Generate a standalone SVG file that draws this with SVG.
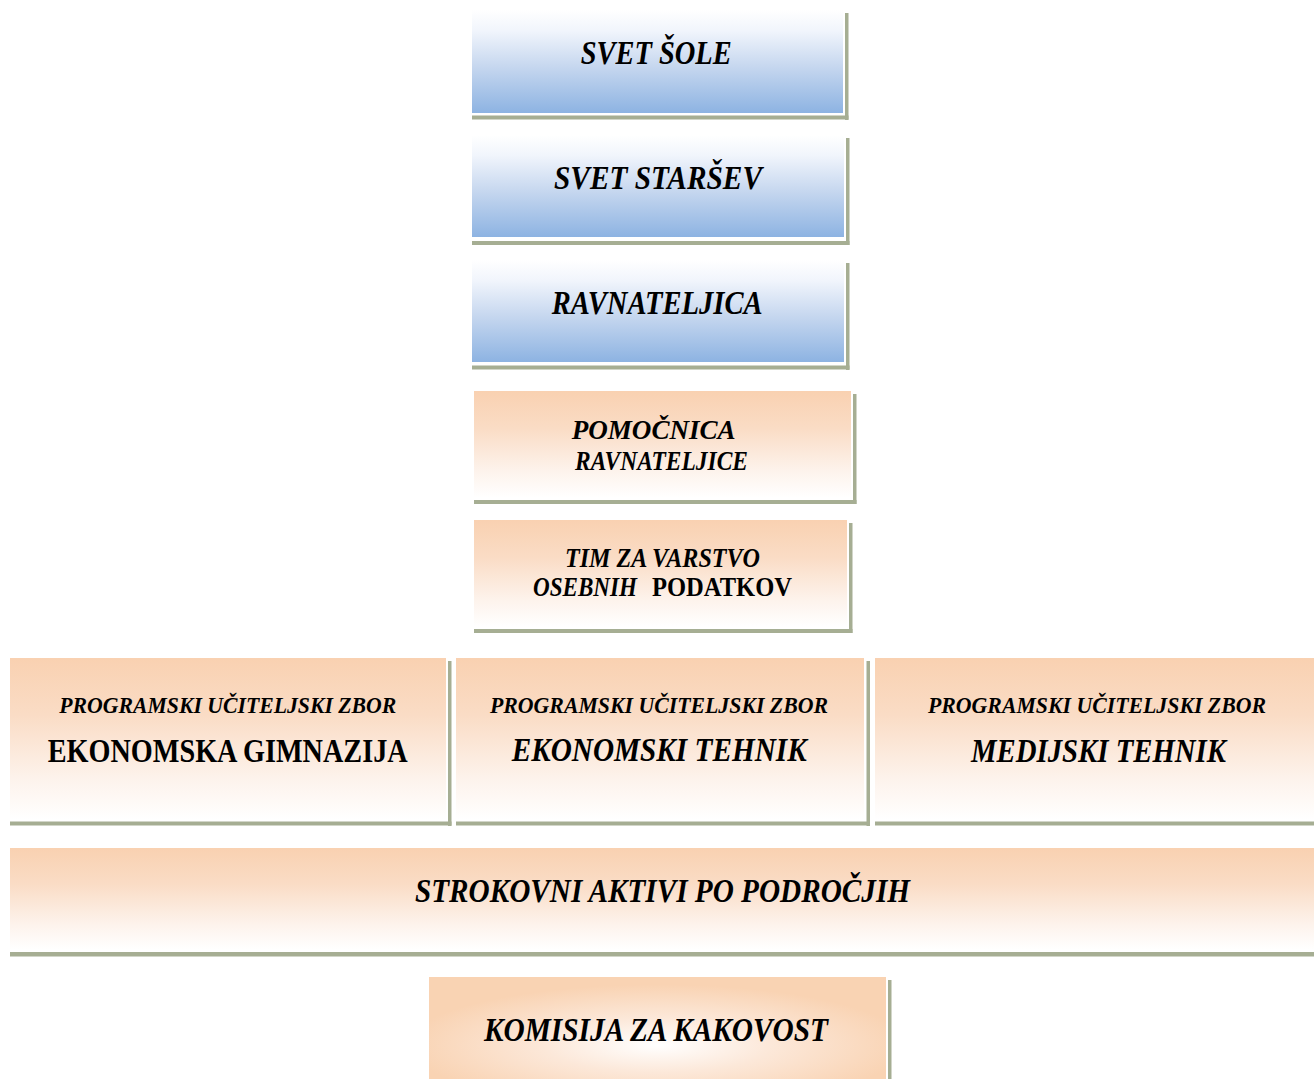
<svg xmlns="http://www.w3.org/2000/svg" width="1314" height="1079" viewBox="0 0 1314 1079">
<defs>
<linearGradient id="gBlue" x1="0" y1="0" x2="0" y2="1">
<stop offset="0" stop-color="#ffffff"/>
<stop offset="0.2" stop-color="#f1f5fc"/>
<stop offset="0.55" stop-color="#c6d7ef"/>
<stop offset="1" stop-color="#8db3e2"/>
</linearGradient>
<linearGradient id="gOrange" x1="0" y1="0" x2="0" y2="1">
<stop offset="0" stop-color="#f9d1b1"/>
<stop offset="0.35" stop-color="#fadcc5"/>
<stop offset="0.75" stop-color="#fdf3ec"/>
<stop offset="1" stop-color="#ffffff"/>
</linearGradient>
<radialGradient id="gRadial" cx="0.5" cy="0.62" r="0.55">
<stop offset="0" stop-color="#ffffff"/>
<stop offset="0.45" stop-color="#fce8d9"/>
<stop offset="1" stop-color="#f9d3b3"/>
</radialGradient>
</defs>
<style>
.blue{fill:url(#gBlue)}
.orange{fill:url(#gOrange)}
.radial{fill:url(#gRadial)}
.sh{fill:#a6ae93}
.t{font-family:"Liberation Serif","Times New Roman",serif;font-weight:bold;font-style:italic;fill:#000}
.u{font-family:"Liberation Serif","Times New Roman",serif;font-weight:bold;font-style:normal;fill:#000}
.s32{font-size:33.5px}
.s27{font-size:28px}
.s23{font-size:24px}
.s33{font-size:34px}
</style>
<rect width="1314" height="1079" fill="#ffffff"/>
<g id="connectors"/>

<g id="svet-sole">
<rect class="blue" x="472" y="10" width="371" height="103"/>
<rect class="sh" x="845" y="13" width="3.5" height="107"/>
<rect class="sh" x="472" y="115.5" width="376.5" height="4"/>
<text class="t s32" x="580.7" y="63.5" textLength="151" lengthAdjust="spacingAndGlyphs">SVET ŠOLE</text>
</g>

<g id="svet-starsev">
<rect class="blue" x="472" y="135" width="372" height="102"/>
<rect class="sh" x="846" y="138" width="3.5" height="107"/>
<rect class="sh" x="472" y="241" width="377.5" height="4"/>
<text class="t s32" x="554" y="188.5" textLength="208" lengthAdjust="spacingAndGlyphs">SVET STARŠEV</text>
</g>

<g id="ravnateljica">
<rect class="blue" x="472" y="260" width="372" height="102"/>
<rect class="sh" x="846" y="263" width="3.5" height="107"/>
<rect class="sh" x="472" y="365.5" width="377.5" height="4"/>
<text class="t s32" x="551.7" y="313.5" textLength="211" lengthAdjust="spacingAndGlyphs">RAVNATELJICA</text>
</g>

<g id="pomocnica">
<rect class="orange" x="474" y="391" width="377" height="107"/>
<rect class="sh" x="853" y="394" width="3.5" height="110"/>
<rect class="sh" x="474" y="500" width="382.5" height="4"/>
<text class="t s27" x="571.7" y="439" textLength="164" lengthAdjust="spacingAndGlyphs">POMOČNICA</text>
<text class="t s27" x="575" y="470" textLength="173" lengthAdjust="spacingAndGlyphs">RAVNATELJICE</text>
</g>

<g id="tim">
<rect class="orange" x="474" y="520" width="373" height="107"/>
<rect class="sh" x="849" y="523" width="3.5" height="110"/>
<rect class="sh" x="474" y="629" width="378.5" height="4"/>
<text class="t s27" x="565" y="567" textLength="195" lengthAdjust="spacingAndGlyphs">TIM ZA VARSTVO</text>
<text class="t s27" x="533" y="596" textLength="104" lengthAdjust="spacingAndGlyphs">OSEBNIH</text>
<text class="u s27" x="652" y="596" textLength="140" lengthAdjust="spacingAndGlyphs">PODATKOV</text>
</g>

<g id="zbor-eg">
<rect class="orange" x="10" y="658" width="436" height="162"/>
<rect class="sh" x="448" y="661" width="3.5" height="165"/>
<rect class="sh" x="10" y="821.5" width="441.5" height="4"/>
<text class="t s23" x="59.3" y="712.5" textLength="337" lengthAdjust="spacingAndGlyphs">PROGRAMSKI UČITELJSKI ZBOR</text>
<text class="u s32" x="47.7" y="761.5" textLength="360" lengthAdjust="spacingAndGlyphs">EKONOMSKA GIMNAZIJA</text>
</g>

<g id="zbor-et">
<rect class="orange" x="456" y="658" width="408" height="162"/>
<rect class="sh" x="866.5" y="661" width="3.5" height="165"/>
<rect class="sh" x="456" y="821.5" width="414" height="4"/>
<text class="t s23" x="490" y="712.5" textLength="338" lengthAdjust="spacingAndGlyphs">PROGRAMSKI UČITELJSKI ZBOR</text>
<text class="t s32" x="511.7" y="761" textLength="295" lengthAdjust="spacingAndGlyphs">EKONOMSKI TEHNIK</text>
</g>

<g id="zbor-mt">
<rect class="orange" x="875" y="658" width="445" height="162"/>
<rect class="sh" x="875" y="821.5" width="445" height="4"/>
<text class="t s23" x="928" y="712.5" textLength="338" lengthAdjust="spacingAndGlyphs">PROGRAMSKI UČITELJSKI ZBOR</text>
<text class="t s32" x="971" y="761.5" textLength="255" lengthAdjust="spacingAndGlyphs">MEDIJSKI TEHNIK</text>
</g>

<g id="strokovni-aktivi">
<rect class="orange" x="10" y="848" width="1310" height="102"/>
<rect class="sh" x="10" y="952" width="1310" height="4.5"/>
<text class="t s33" x="415" y="901.5" textLength="495" lengthAdjust="spacingAndGlyphs">STROKOVNI AKTIVI PO PODROČJIH</text>
</g>

<g id="komisija">
<rect class="radial" x="429" y="977" width="457" height="110"/>
<rect class="sh" x="888" y="980" width="3.5" height="105"/>
<text class="t s32" x="484" y="1040.5" textLength="344" lengthAdjust="spacingAndGlyphs">KOMISIJA ZA KAKOVOST</text>
</g>
</svg>
